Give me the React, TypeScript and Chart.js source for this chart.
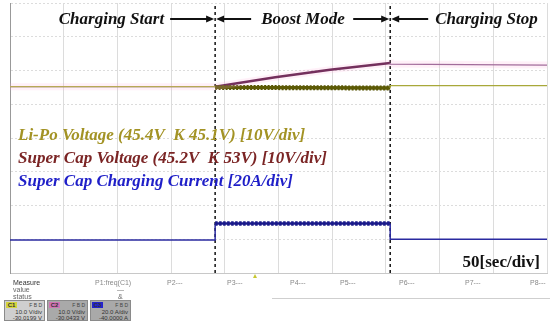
import React, { useEffect, useRef } from 'react';
import { Chart, registerables } from 'chart.js';
Chart.register(...registerables);

// ---- data (time in seconds, traces in screen divisions, centre = 0) ----
const phaseLabels = ['Charging Start', 'Boost Mode', 'Charging Stop'];
const phaseBoundsSec = [191, 354];
const traceLabels = [
  'Li-Po Voltage (45.4V  K 45.1V) [10V/div]',
  'Super Cap Voltage (45.2V  K 53V) [10V/div]',
  'Super Cap Charging Current [20A/div]',
];
const timebaseLabel = '50[sec/div]';

const liPoTime = [0, 191, 191, 354, 354, 500];
const liPoDiv = [1.52, 1.52, 1.5, 1.48, 1.55, 1.55];
const capTime = [0, 191, 247, 298, 354, 354, 500];
const capDiv = [1.52, 1.52, 1.8, 2.02, 2.22, 2.19, 2.16];
const curTime = [0, 191, 191, 354, 354, 500];
const curDiv = [-3.02, -3.02, -2.53, -2.53, -3.0, -3.0];

const measureRows = ['Measure', 'value', 'status'];
const paramLabels = ['P1:freq(C1)', 'P2---', 'P3---', 'P4---', 'P5---', 'P6---', 'P7---', 'P8---'];
const channelNames = ['C1', 'C2', 'C3'];
const channelScales = ['10.0 V/div', '10.0 V/div', '20.0 A/div'];
const channelOffsets = ['-30.0199 V', '-30.0433 V', '-40.0000 A'];

const pts = (t: number[], v: number[]) => t.map((x, i) => ({ x, y: v[i] }));

function arrow(ctx: CanvasRenderingContext2D, x0: number, x1: number, y: number) {
  const dir = x1 > x0 ? 1 : -1;
  ctx.beginPath();
  ctx.lineWidth = 2;
  ctx.moveTo(x0, y);
  ctx.lineTo(x1 - dir * 6, y);
  ctx.stroke();
  ctx.beginPath();
  ctx.moveTo(x1, y);
  ctx.lineTo(x1 - dir * 8, y - 3.5);
  ctx.lineTo(x1 - dir * 8, y + 3.5);
  ctx.closePath();
  ctx.fill();
}

const annotPlugin = {
  id: 'annot',
  afterDatasetsDraw(chart: any) {
    const { ctx, chartArea: ca, scales } = chart;
    const xb1 = scales.x.getPixelForValue(phaseBoundsSec[0]);
    const xb2 = scales.x.getPixelForValue(phaseBoundsSec[1]);
    ctx.save();
    ctx.fillStyle = '#111';
    ctx.strokeStyle = '#111';
    ctx.font = 'italic bold 17px "Liberation Serif"';
    ctx.textBaseline = 'alphabetic';
    const yT = ca.top + 21;
    ctx.textAlign = 'right';
    ctx.fillText(phaseLabels[0], xb1 - 51, yT);
    ctx.textAlign = 'left';
    ctx.fillText(phaseLabels[1], xb1 + 46, yT);
    ctx.fillText(phaseLabels[2], xb2 + 45, yT);
    const yA = yT - 5;
    arrow(ctx, xb1 - 45, xb1 - 1, yA);
    arrow(ctx, xb1 + 36, xb1 + 1, yA);
    arrow(ctx, xb2 - 37, xb2 - 1, yA);
    arrow(ctx, xb2 + 38, xb2 + 1, yA);

    const colors = ['#a39325', '#7b2525', '#1f1fc8'];
    traceLabels.forEach((s, i) => {
      ctx.fillStyle = colors[i];
      ctx.fillText(s, ca.left + 8, ca.top + 137 + i * 23);
    });

    ctx.font = 'bold 17px "Liberation Serif"';
    ctx.fillStyle = '#111';
    ctx.textAlign = 'right';
    ctx.fillText(timebaseLabel, ca.right - 7, ca.bottom - 6);
    ctx.restore();
  },
};

export default function App() {
  const ref = useRef<HTMLCanvasElement>(null);
  useEffect(() => {
    document.body.style.margin = '0';
    const thin = 1.2;
    const chart = new Chart(ref.current as HTMLCanvasElement, {
      type: 'line',
      data: {
        datasets: [
          {
            data: pts(capTime, capDiv),
            borderColor: 'rgba(255,170,215,0.18)',
            borderWidth: 7,
          },
          {
            data: pts(liPoTime, liPoDiv),
            borderColor: '#a8a83a',
            borderWidth: thin,
            segment: {
              borderWidth: (c: any) => (c.p0DataIndex === 2 ? 3.5 : thin),
              borderColor: (c: any) => (c.p0DataIndex === 2 ? '#5c5a05' : '#a8a83a'),
            },
          },
          {
            data: pts(liPoTime.slice(2, 4), liPoDiv.slice(2, 4)),
            borderColor: '#555300',
            borderWidth: 5,
            borderDash: [2, 1.5],
          },
          {
            data: pts(capTime, capDiv),
            borderColor: '#8e5f8e',
            borderWidth: thin,
            segment: {
              borderWidth: (c: any) => (c.p0DataIndex >= 1 && c.p0DataIndex <= 3 ? 2.6 : thin),
              borderColor: (c: any) =>
                c.p0DataIndex === 0 ? '#7a6a7a' : c.p0DataIndex <= 3 ? '#561543' : '#8e5f8e',
            },
          },
          {
            data: pts(curTime, curDiv),
            borderColor: '#2a2aa0',
            borderWidth: 1.5,
            segment: {
              borderWidth: (c: any) => (c.p0DataIndex === 2 ? 2.5 : 1.5),
              borderColor: (c: any) => (c.p0DataIndex === 2 ? '#1a1a8a' : '#2a2aa0'),
            },
          },
          {
            data: pts(curTime.slice(2, 4), curDiv.slice(2, 4)),
            borderColor: '#1a1a8a',
            borderWidth: 4.5,
            borderDash: [2.5, 1.5],
          },
          {
            data: [
              { x: phaseBoundsSec[0], y: -4 },
              { x: phaseBoundsSec[0], y: 4 },
            ],
            borderColor: '#111',
            borderWidth: 1.5,
            borderDash: [3, 3],
          },
          {
            data: [
              { x: phaseBoundsSec[1], y: -4 },
              { x: phaseBoundsSec[1], y: 4 },
            ],
            borderColor: '#111',
            borderWidth: 1.5,
            borderDash: [3, 3],
          },
        ],
      },
      options: {
        animation: false,
        responsive: false,
        events: [],
        elements: { point: { radius: 0 }, line: { tension: 0 } },
        layout: { padding: { left: 10, top: 3, right: 3, bottom: 7 } },
        plugins: { legend: { display: false }, tooltip: { enabled: false } },
        scales: {
          x: {
            type: 'linear',
            min: 0,
            max: 500,
            ticks: { display: false, stepSize: 50 },
            grid: { color: '#dcdcdc', drawTicks: false },
            border: { color: '#c8c8c8' },
          },
          y: {
            type: 'linear',
            min: -4,
            max: 4,
            ticks: { display: false, stepSize: 1 },
            grid: { color: '#dcdcdc', drawTicks: false },
            border: { color: '#999', dash: [2, 2] },
          },
        },
      },
      plugins: [annotPlugin],
    });
    return () => chart.destroy();
  }, []);

  const small: React.CSSProperties = {
    position: 'absolute',
    fontFamily: '"Liberation Sans", Arial, sans-serif',
    fontSize: 7,
    color: '#555',
    lineHeight: '7px',
    whiteSpace: 'nowrap',
  };
  const paramX = [95, 167, 227, 290, 340, 399, 465, 530];
  const boxX = [4, 47, 90];
  const badge = ['#d4d43c', '#d074b4', '#2222cc'];
  const boxBg = ['#cfcfcf', '#a9a9a9', '#a9a9a9'];

  return (
    <div style={{ position: 'fixed', left: 0, top: 0, width: 550, height: 325, background: '#fff', overflow: 'hidden' }}>
      <canvas ref={ref} width={550} height={280} style={{ position: 'absolute', left: 0, top: 0 }} />
      <div style={{ position: 'absolute', left: 253, top: 274, width: 0, height: 0, borderLeft: '2.5px solid transparent', borderRight: '2.5px solid transparent', borderBottom: '4px solid #c8c830' }} />
      {measureRows.map((s, i) => (
        <div key={s} style={{ ...small, left: 13, top: 279 + i * 7, color: i === 0 ? '#333' : '#666' }}>{s}</div>
      ))}
      {paramLabels.map((s, i) => (
        <div key={s} style={{ ...small, left: paramX[i], top: 279, color: '#888' }}>{s}</div>
      ))}
      <div style={{ ...small, left: 117, top: 286, color: '#777' }}>—</div>
      <div style={{ ...small, left: 118, top: 293, color: '#666' }}>&amp;</div>
      <div style={{ position: 'absolute', left: 272, top: 298, width: 278, height: 1, background: '#cfcfcf' }} />
      {channelNames.map((c, i) => (
        <div key={c} style={{ position: 'absolute', left: boxX[i], top: 300, width: 41, height: 21, background: boxBg[i], border: '1px solid #8a8a8a', boxSizing: 'border-box' }}>
          <div style={{ position: 'absolute', left: 1, top: 1, width: 11, height: 6, background: badge[i], fontFamily: '"Liberation Sans", sans-serif', fontSize: 6, lineHeight: '6px', color: '#333', textAlign: 'center', fontWeight: 'bold' }}>{c}</div>
          <div style={{ ...small, fontSize: 5, lineHeight: '5px', right: 2, top: 2, color: '#444' }}>F B D</div>
          <div style={{ ...small, fontSize: 6, lineHeight: '6px', right: 2, top: 8, color: '#333' }}>{channelScales[i]}</div>
          <div style={{ ...small, fontSize: 6, lineHeight: '6px', right: 2, top: 14, color: '#333' }}>{channelOffsets[i]}</div>
        </div>
      ))}
    </div>
  );
}
